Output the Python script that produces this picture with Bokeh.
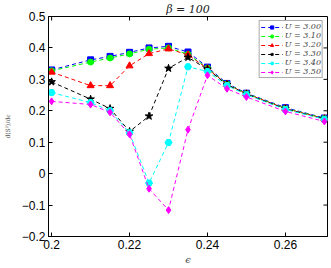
from bokeh.plotting import figure
from bokeh.models import (Range1d, FixedTicker, Legend, LegendItem)
from bokeh.embed import file_html
from bokeh.resources import INLINE

eps = [0.2, 0.21, 0.215, 0.22, 0.225, 0.23, 0.235, 0.24, 0.245, 0.25, 0.26, 0.27]
u300 = [0.330, 0.362, 0.373, 0.386, 0.400, 0.405, 0.387, 0.339, 0.287, 0.256, 0.210, 0.177]
u310 = [0.327, 0.355, 0.368, 0.381, 0.396, 0.400, 0.380, 0.336, 0.285, 0.255, 0.208, 0.176]
u320 = [0.323, 0.280, 0.280, 0.343, 0.382, 0.397, 0.378, 0.334, 0.284, 0.254, 0.207, 0.175]
u330 = [0.292, 0.237, 0.207, 0.134, 0.183, 0.335, 0.370, 0.332, 0.283, 0.253, 0.206, 0.174]
u340 = [0.258, 0.226, 0.200, 0.130, -0.030, 0.099, 0.340, 0.325, 0.280, 0.251, 0.204, 0.173]
u350 = [0.230, 0.220, 0.195, 0.125, -0.048, -0.116, 0.140, 0.313, 0.270, 0.244, 0.198, 0.166]
labels = ["U = 3.00", "U = 3.10", "U = 3.20", "U = 3.30", "U = 3.40", "U = 3.50"]
x_ticks = [0.2, 0.22, 0.24, 0.26]
y_ticks = [-0.2, -0.1, 0.0, 0.1, 0.2, 0.3, 0.4, 0.5]
y_tick_labels = ["\u22120.2", "\u22120.1", "0", "0.1", "0.2", "0.3", "0.4", "0.5"]

series = [u300, u310, u320, u330, u340, u350]
colors = ["#0000ff", "#00ff00", "#ff0000", "#000000", "#00ffff", "#ff00ff"]
markers = ["square", "circle", "triangle", "star", "hex", "diamond"]
msizes = [6, 6, 7, 8, 7, 7]

XMIN, XMAX, YMIN, YMAX = 0.1992, 0.2708, -0.2, 0.5
FW, FH = 279, 220

p = figure(frame_width=FW, frame_height=FH, output_backend="svg", toolbar_location=None,
           x_range=Range1d(XMIN, XMAX), y_range=Range1d(YMIN, YMAX),
           min_border_left=39, min_border_right=5, min_border_top=0, min_border_bottom=26,
           title="\u03b2 = 100")
p.title.align = "center"
p.title.text_font = "DejaVu Serif"
p.title.text_font_style = "italic"
p.title.text_font_size = "11px"
p.title.text_color = "#222222"
p.title.offset = 0
p.title.standoff = 1
p.background_fill_color = "white"
p.border_fill_color = "white"
p.outline_line_color = "black"
p.outline_line_width = 1
p.xgrid.visible = False
p.ygrid.visible = False

FONT = "Liberation Sans"
for ax in p.xaxis:
    ax.ticker = FixedTicker(ticks=x_ticks)
    ax.major_label_overrides = {t: str(t) for t in x_ticks}
for ax in p.yaxis:
    ax.ticker = FixedTicker(ticks=y_ticks)
    ax.major_label_overrides = {t: l for t, l in zip(y_ticks, y_tick_labels)}
for ax in p.axis:
    ax.major_tick_in = 4
    ax.major_tick_out = 0
    ax.minor_tick_line_color = None
    ax.axis_line_color = "black"
    ax.major_label_text_font = FONT
    ax.major_label_text_font_size = "12px"
    ax.major_label_text_color = "black"
    ax.major_label_standoff = 3

p.xaxis.axis_label = "\u03f5"
p.xaxis.axis_label_text_font = "DejaVu Serif"
p.xaxis.axis_label_text_font_style = "italic"
p.xaxis.axis_label_text_font_size = "10px"
p.xaxis.axis_label_standoff = 2
p.yaxis.axis_label = "d\u27e8S\u00b2\u27e9/d\u03f5"
p.yaxis.axis_label_text_font = "DejaVu Serif"
p.yaxis.axis_label_text_font_style = "normal"
p.yaxis.axis_label_text_font_size = "6px"
p.yaxis.axis_label_text_color = "#555555"
p.yaxis.axis_label_standoff = 8

# mirrored inward ticks on top and right edges, derived from the tick lists
tick_dy = (YMAX - YMIN) * 4 / FH
tick_dx = (XMAX - XMIN) * 4 / FW
p.segment(x0=x_ticks, y0=[YMAX] * len(x_ticks), x1=x_ticks, y1=[YMAX - tick_dy] * len(x_ticks),
          line_color="black", line_width=1)
p.segment(x0=[XMAX] * len(y_ticks), y0=y_ticks, x1=[XMAX - tick_dx] * len(y_ticks), y1=y_ticks,
          line_color="black", line_width=1)

items = []
for ys, c, m, s, lab in zip(series, colors, markers, msizes, labels):
    lr = p.line(eps, ys, line_color=c, line_dash="4 3", line_width=1)
    sr = p.scatter(eps, ys, marker=m, size=s, fill_color=c, line_color=c)
    items.append(LegendItem(label=lab, renderers=[lr, sr]))

legend = Legend(items=items, location="top_right", label_text_font="DejaVu Serif",
                label_text_font_style="italic", label_text_font_size="8px",
                label_height=8, glyph_height=8, glyph_width=22, spacing=0,
                padding=1, margin=4, label_standoff=2,
                border_line_color="#555555", border_line_width=1,
                background_fill_alpha=1)
p.add_layout(legend)

open("out.html", "w").write(file_html(p, INLINE))
